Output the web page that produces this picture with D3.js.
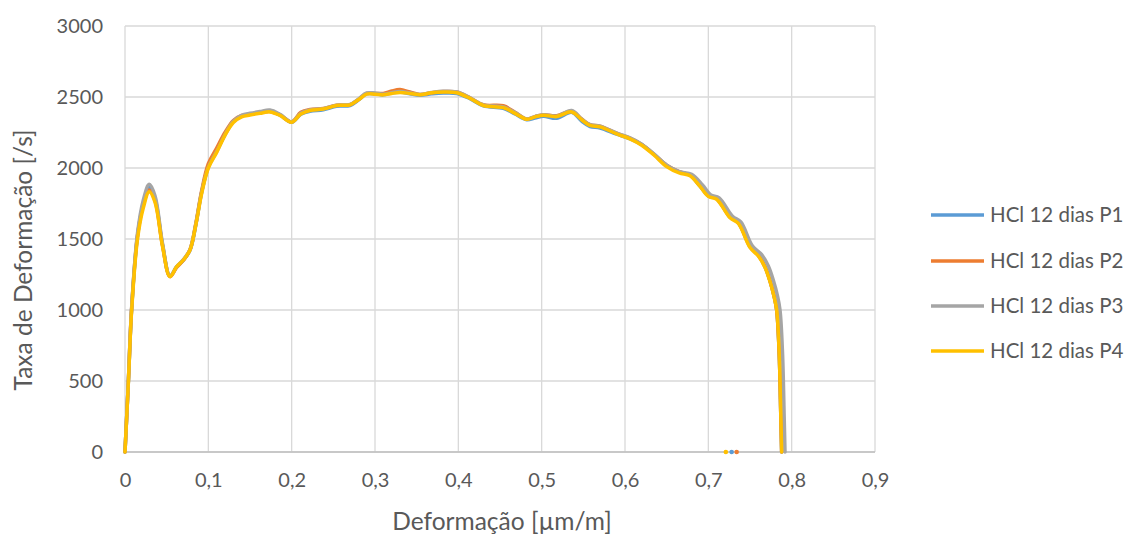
<!DOCTYPE html>
<html>
<head>
<meta charset="utf-8">
<script src="https://cdn.jsdelivr.net/npm/d3@7"></script>
<style>
  body { margin: 0; background: #fff; }
  svg { font-family: Lato, "Open Sans", sans-serif; }
</style>
</head>
<body>
<div id="chart"></div>
<script>
// strain [µm/m], shared by P1, P2, P4
var strain = [0, 0.004, 0.008, 0.015, 0.022, 0.029, 0.036, 0.045, 0.054, 0.062, 0.070, 0.078, 0.085, 0.092, 0.100,
  0.110, 0.120, 0.130, 0.140, 0.150, 0.162, 0.174, 0.186, 0.200, 0.211, 0.222, 0.238, 0.254, 0.270, 0.280,
  0.290, 0.300, 0.310, 0.320, 0.330, 0.342, 0.354, 0.368, 0.382, 0.398, 0.414, 0.430, 0.454, 0.468, 0.482,
  0.492, 0.502, 0.518, 0.536, 0.548, 0.558, 0.570, 0.590, 0.606, 0.620, 0.635, 0.650, 0.665, 0.678, 0.690,
  0.700, 0.710, 0.726, 0.736, 0.750, 0.760, 0.768, 0.774, 0.779, 0.782, 0.785, 0.787, 0.788];
// P3 ends a little further right
var strainP3 = [0, 0.004, 0.008, 0.015, 0.022, 0.029, 0.036, 0.045, 0.054, 0.062, 0.070, 0.078, 0.085, 0.092, 0.100,
  0.110, 0.120, 0.130, 0.140, 0.150, 0.162, 0.174, 0.186, 0.200, 0.211, 0.222, 0.238, 0.254, 0.270, 0.280,
  0.290, 0.300, 0.310, 0.320, 0.330, 0.342, 0.354, 0.368, 0.382, 0.398, 0.414, 0.430, 0.454, 0.468, 0.482,
  0.492, 0.502, 0.518, 0.536, 0.548, 0.558, 0.570, 0.590, 0.606, 0.620, 0.635, 0.650, 0.665, 0.680, 0.693,
  0.703, 0.713, 0.729, 0.739, 0.753, 0.764, 0.772, 0.778, 0.783, 0.786, 0.789, 0.791, 0.792];

var rateP1 = [0, 490, 1010, 1520, 1750, 1862, 1785, 1460, 1238, 1305, 1350, 1420, 1600, 1830, 2010,
  2120, 2235, 2325, 2365, 2378, 2390, 2400, 2372, 2322, 2378, 2400, 2410, 2435, 2440, 2478,
  2522, 2522, 2515, 2528, 2535, 2522, 2512, 2522, 2528, 2525, 2488, 2438, 2420, 2380, 2340,
  2352, 2365, 2350, 2392, 2330, 2292, 2282, 2238, 2205, 2165, 2095, 2015, 1972, 1950, 1872,
  1805, 1785, 1655, 1615, 1448, 1388, 1305, 1205, 1095, 1000, 700, 250, 0];
var rateP2 = [0, 492, 1015, 1525, 1740, 1845, 1770, 1455, 1235, 1300, 1350, 1425, 1610, 1840, 2030,
  2140, 2250, 2335, 2370, 2380, 2390, 2398, 2375, 2325, 2392, 2412, 2420, 2442, 2445, 2482,
  2525, 2525, 2525, 2542, 2552, 2535, 2518, 2530, 2538, 2535, 2495, 2445, 2438, 2392, 2345,
  2362, 2375, 2368, 2400, 2345, 2305, 2295, 2245, 2210, 2165, 2095, 2020, 1975, 1950, 1875,
  1805, 1785, 1655, 1615, 1445, 1385, 1305, 1205, 1095, 1000, 700, 250, 0];
var rateP3 = [0, 495, 1020, 1540, 1775, 1885, 1805, 1470, 1240, 1305, 1355, 1425, 1605, 1830, 2005,
  2115, 2235, 2330, 2370, 2385, 2398, 2408, 2378, 2325, 2385, 2408, 2418, 2442, 2448, 2485,
  2528, 2528, 2520, 2530, 2538, 2528, 2518, 2532, 2540, 2535, 2495, 2445, 2430, 2390, 2345,
  2362, 2375, 2365, 2405, 2345, 2305, 2295, 2245, 2212, 2168, 2098, 2020, 1975, 1955, 1880,
  1810, 1790, 1660, 1620, 1450, 1390, 1310, 1210, 1100, 1000, 700, 250, 0];
var rateP4 = [0, 486, 1000, 1500, 1720, 1833, 1760, 1450, 1235, 1305, 1352, 1423, 1600, 1820, 2000,
  2110, 2230, 2320, 2360, 2373, 2385, 2395, 2370, 2322, 2380, 2405, 2415, 2440, 2445, 2480,
  2520, 2520, 2515, 2525, 2532, 2525, 2515, 2530, 2535, 2530, 2490, 2440, 2425, 2385, 2343,
  2360, 2372, 2362, 2395, 2340, 2300, 2290, 2240, 2205, 2160, 2090, 2010, 1965, 1945, 1870,
  1800, 1780, 1650, 1610, 1440, 1380, 1300, 1200, 1090, 1000, 700, 250, 0];

// stray zero points near 0.72-0.73
var strayX = [0.728, 0.734, 0.721];
var strayNames = ['HCl 12 dias P1', 'HCl 12 dias P2', 'HCl 12 dias P4'];

var seriesNames = ['HCl 12 dias P1', 'HCl 12 dias P2', 'HCl 12 dias P3', 'HCl 12 dias P4'];
var seriesColors = ['#5b9bd5', '#ed7d31', '#a5a5a5', '#ffc000'];
var xTicks = [0, 0.1, 0.2, 0.3, 0.4, 0.5, 0.6, 0.7, 0.8, 0.9];
var yTicks = [0, 500, 1000, 1500, 2000, 2500, 3000];

(function() {
  'use strict';

  var series = [
    { name: seriesNames[0], x: strain, y: rateP1 },
    { name: seriesNames[1], x: strain, y: rateP2 },
    { name: seriesNames[2], x: strainP3, y: rateP3 },
    { name: seriesNames[3], x: strain, y: rateP4 }
  ];

  var width = 1128, height = 534;
  var plotL = 125, plotR = 875, plotT = 26, plotB = 452;

  var color = d3.scaleOrdinal().domain(seriesNames).range(seriesColors);
  var x = d3.scaleLinear().domain([0, 0.9]).range([plotL, plotR]);
  var y = d3.scaleLinear().domain([0, 3000]).range([plotB, plotT]);
  var fmt = function(d) { return String(d).replace('.', ','); };

  var svg = d3.select('#chart').append('svg')
    .attr('width', width)
    .attr('height', height);

  // grid
  svg.append('g').selectAll('line').data(yTicks).enter().append('line')
    .attr('x1', plotL).attr('x2', plotR)
    .attr('y1', function(d) { return y(d); }).attr('y2', function(d) { return y(d); })
    .attr('stroke', '#d9d9d9').attr('stroke-width', 1.3);
  svg.append('g').selectAll('line').data(xTicks).enter().append('line')
    .attr('y1', plotT).attr('y2', plotB)
    .attr('x1', function(d) { return x(d); }).attr('x2', function(d) { return x(d); })
    .attr('stroke', '#d9d9d9').attr('stroke-width', 1.3);
  svg.append('line')
    .attr('x1', plotL).attr('x2', plotR).attr('y1', plotB).attr('y2', plotB)
    .attr('stroke', '#bfbfbf').attr('stroke-width', 1.3);

  // axes (labels only)
  var yAxis = svg.append('g')
    .attr('transform', 'translate(' + (plotL - 22) + ',0)')
    .call(d3.axisLeft(y).tickValues(yTicks).tickSize(0).tickPadding(0).tickFormat(function(d) { return d; }));
  var xAxis = svg.append('g')
    .attr('transform', 'translate(0,' + (plotB + 21) + ')')
    .call(d3.axisBottom(x).tickValues(xTicks).tickSize(0).tickPadding(0).tickFormat(fmt));
  [yAxis, xAxis].forEach(function(a) {
    a.select('.domain').remove();
    a.selectAll('text').attr('fill', '#595959').style('font-size', '20px').style('font-family', 'Lato, sans-serif');
  });

  // lines
  var line = d3.line()
    .x(function(d) { return x(d[0]); })
    .y(function(d) { return y(d[1]); })
    .curve(d3.curveCatmullRom.alpha(0.5));

  svg.append('g').selectAll('path').data(series).enter().append('path')
    .attr('d', function(s) { return line(s.x.map(function(v, i) { return [v, s.y[i]]; })); })
    .attr('fill', 'none')
    .attr('stroke', function(s) { return color(s.name); })
    .attr('stroke-width', 3.5)
    .attr('stroke-linejoin', 'round')
    .attr('stroke-linecap', 'round');

  svg.append('g').selectAll('circle').data(strayX).enter().append('circle')
    .attr('cx', function(d) { return x(d); })
    .attr('cy', y(0))
    .attr('r', 2.3)
    .attr('fill', function(d, i) { return color(strayNames[i]); });

  // titles
  svg.append('text')
    .attr('x', 502).attr('y', 530)
    .attr('text-anchor', 'middle')
    .attr('fill', '#595959').style('font-size', '24.5px')
    .text('Deformação [µm/m]');
  svg.append('text')
    .attr('transform', 'translate(32,260) rotate(-90)')
    .attr('text-anchor', 'middle')
    .attr('fill', '#595959').style('font-size', '24.5px')
    .text('Taxa de Deformação [/s]');

  // legend
  var legendY = [215, 261, 306, 351];
  var legend = svg.append('g').selectAll('g').data(seriesNames).enter().append('g')
    .attr('transform', function(d, i) { return 'translate(931,' + legendY[i] + ')'; });
  legend.append('line')
    .attr('x1', 0).attr('x2', 53)
    .attr('stroke', function(d) { return color(d); })
    .attr('stroke-width', 3.5);
  legend.append('text')
    .attr('x', 59).attr('dy', '0.35em')
    .attr('fill', '#595959').style('font-size', '20.5px')
    .text(function(d) { return d; });
})();
</script>
</body>
</html>
